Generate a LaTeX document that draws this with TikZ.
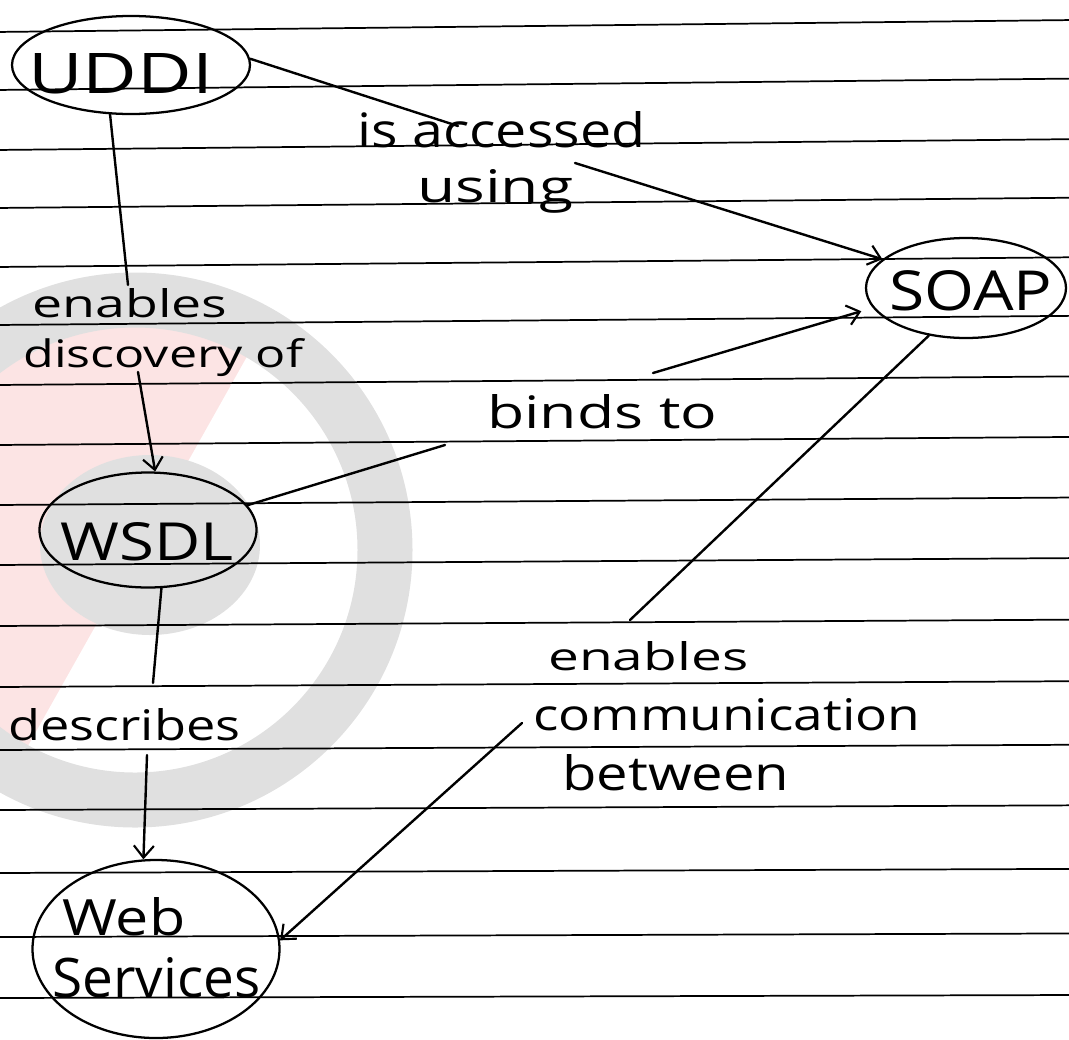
\documentclass[tikz,border=0pt]{standalone}
\usepackage{fontspec}
\setmainfont{Open Sans}
\usetikzlibrary{shapes.geometric,arrows.meta}
\newlength\pxu
\setlength\pxu{0.75pt}
\newcommand{\hw}[3]{\resizebox{#1\pxu}{#2\pxu}{#3}}
\definecolor{wmgray}{RGB}{224,224,224}
\definecolor{wmpink}{RGB}{252,228,228}
\begin{document}
\begin{tikzpicture}[x=0.75pt,y=-0.75pt,
  ell/.style={draw, ellipse, line width=1.7pt, inner sep=0pt},
  conn/.style={line width=1.8pt, line cap=round},
  arr/.style={conn, -{Straight Barb[length=9pt,width=15pt,line width=1.6pt]}},
  lbl/.style={anchor=base west, inner sep=0pt},
  rule/.style={line width=1.3pt}]
\useasboundingbox (0,0) rectangle (1069,1039);
\begin{scope}
\clip (0,0) rectangle (1069,1039);
% faint watermark
\begin{scope}
\clip (135,550) circle (225);
\fill[wmpink] (-200,0) -- (290,280) -- (20,760) -- (-200,1039) -- cycle;
\end{scope}
\draw[wmgray, line width=55\pxu] (135,550) circle (250);
\fill[wmgray] (150,545) ellipse (110 and 90);
% ruled paper
\foreach \yy [count=\i] in {32,90,150,208,267,325,385,445,505,565,626,687,750,810,873,937,998}{
  \pgfmathsetmacro\tlt{12-9*(\i-1)/16}
  \draw[rule] (-5,\yy) -- (1075,\yy-\tlt);
}
\end{scope}

% concept nodes
\node[ell, minimum width=238\pxu, minimum height=98\pxu] (uddi) at (131,65) {};
\node[lbl] (uddit) at (28,93) {\hw{185}{40}{UDDI}};
\node[ell, minimum width=200\pxu, minimum height=100\pxu] (soap) at (966,288) {};
\node[lbl] (soapt) at (889,310) {\hw{163}{40}{SOAP}};
\node[ell, minimum width=217\pxu, minimum height=115\pxu] (wsdl) at (148,530) {};
\node[lbl] (wsdlt) at (60,560) {\hw{173}{38}{WSDL}};
\node[ell, minimum width=247\pxu, minimum height=178\pxu] (ws) at (156,949) {};
\node[lbl] (wst1) at (62,935) {\hw{123}{38}{Web}};
\node[lbl] (wst2) at (52,997) {\hw{208}{40}{Services}};

% labels
\node[lbl] (l1a) at (357,147) {\hw{288}{36}{is accessed}};
\node[lbl] (l1b) at (417,202) {\hw{156}{33}{using}};
\node[lbl] (l2a) at (32,317) {\hw{195}{29}{enables}};
\node[lbl] (l2b) at (23,367) {\hw{280}{29}{discovery of}};
\node[lbl] (l3) at (487,428) {\hw{230}{34}{binds to}};
\node[lbl] (l4) at (8,740) {\hw{232}{32}{describes}};
\node[lbl] (l5a) at (548,670) {\hw{200}{29}{enables}};
\node[lbl] (l5b) at (533,730) {\hw{387}{32}{communication}};
\node[lbl] (l5c) at (562,790) {\hw{227}{36}{between}};

% connector break points
\coordinate (a1) at (458,126);
\coordinate (a2) at (575,163);
\coordinate (b1) at (128,285);
\coordinate (b2) at (138,372);
\coordinate (c1) at (445,445);
\coordinate (c2) at (653,373);
\coordinate (d1) at (153,683);
\coordinate (d2) at (147,755);
\coordinate (e1) at (630,620);
\coordinate (e2) at (522,723);

% connectors
\draw[conn] (uddi.3) -- (a1);
\draw[arr] (a2) -- (soap.161);
\draw[conn] (uddi.247) -- (b1);
\draw[arr] (b2) -- (wsdl.83);
\draw[conn] (wsdl.14) -- (c1);
\draw[arr, shorten >=9pt] (c2) -- (soap.192);
\draw[conn] (wsdl.283) -- (d1);
\draw[arr] (d2) -- (ws.98);
\draw[conn] (soap.232) -- (e1);
\draw[arr] (e2) -- (ws.4);
\end{tikzpicture}
\end{document}
